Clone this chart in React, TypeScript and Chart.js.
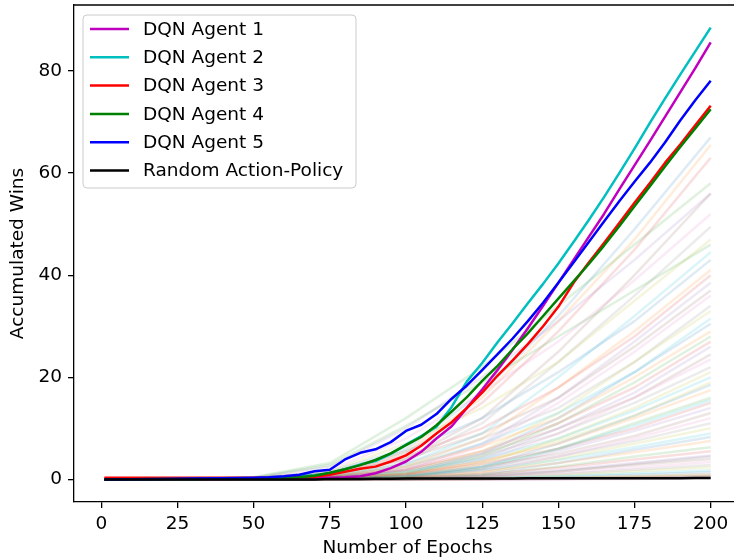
import { useEffect, useRef } from "react";
import { Chart, registerables } from "chart.js";

Chart.register(...registerables);

// ---- data -------------------------------------------------------------

const agentEpochs = [
  1, 10, 20, 30, 40, 50, 55, 60, 65, 70, 75, 80, 85, 90, 95, 100, 105, 110,
  115, 120, 125, 130, 135, 140, 145, 150, 155, 160, 165, 170, 175, 180, 185,
  190, 195, 200,
];

const agent1Wins = [
  0, 0.05, 0.1, 0.1, 0.1, 0.15, 0.15, 0.2, 0.2, 0.25, 0.3, 0.4, 0.6, 1.2, 2.2,
  3.5, 5.4, 8.0, 10.4, 14.0, 17.6, 21.4, 25.4, 29.6, 34.0, 38.5, 43.0, 47.5,
  52.0, 56.8, 61.5, 66.2, 71.0, 75.8, 80.6, 85.6,
];

const agent2Wins = [
  0, 0.05, 0.1, 0.1, 0.15, 0.2, 0.3, 0.4, 0.6, 0.8, 1.2, 2.0, 2.9, 3.6, 5.0,
  6.8, 8.5, 10.3, 14.2, 19.2, 22.8, 26.8, 30.6, 34.5, 38.3, 42.3, 46.5, 50.8,
  55.3, 60.0, 64.8, 69.8, 74.6, 79.3, 83.9, 88.5,
];

const agent3Wins = [
  0.3, 0.3, 0.3, 0.3, 0.3, 0.3, 0.3, 0.35, 0.4, 0.5, 0.9, 1.5, 2.1, 2.5, 3.5,
  4.7, 6.6, 9.0, 11.2, 14.0, 17.0, 20.3, 23.3, 26.5, 30.0, 33.8, 38.5, 42.5,
  46.3, 50.2, 54.2, 58.0, 62.0, 65.6, 69.4, 73.2,
];

const agent4Wins = [
  0, 0.05, 0.1, 0.1, 0.15, 0.2, 0.2, 0.3, 0.4, 0.7, 1.3, 2.0, 2.8, 3.8, 5.1,
  6.7, 8.3, 10.6, 13.3, 16.1, 19.3, 22.2, 25.5, 28.6, 32.0, 35.4, 38.8, 42.2,
  45.8, 49.6, 53.5, 57.4, 61.3, 65.1, 68.8, 72.5,
];

const agent5Wins = [
  0, 0.05, 0.1, 0.15, 0.2, 0.3, 0.4, 0.6, 0.9, 1.6, 1.9, 3.9, 5.2, 5.9, 7.3,
  9.5, 10.7, 12.8, 15.8, 18.4, 21.4, 24.5, 27.6, 31.0, 34.6, 38.5, 42.5, 46.5,
  50.5, 54.5, 58.3, 62.0, 66.0, 70.3, 74.3, 78.1,
];

const randomPolicyWins = [
  0, 0, 0, 0, 0, 0, 0, 0, 0, 0, 0.1, 0.1, 0.1, 0.12, 0.13, 0.15, 0.15, 0.16,
  0.17, 0.18, 0.18, 0.19, 0.19, 0.2, 0.2, 0.2, 0.21, 0.21, 0.22, 0.22, 0.23,
  0.23, 0.24, 0.24, 0.25, 0.25,
];

const agentLabels = [
  "DQN Agent 1",
  "DQN Agent 2",
  "DQN Agent 3",
  "DQN Agent 4",
  "DQN Agent 5",
  "Random Action-Policy",
];

// Individual training runs shown faintly behind the agents
const runEpochs = [1, 50, 75, 100, 125, 150, 175, 200];

const backgroundRuns = [
  [0, 0.2, 1.5, 6, 17, 32, 49, 67],
  [0, 0.2, 1.2, 5.5, 16, 31, 47, 65.5],
  [0, 0.4, 3.2, 12, 22, 34, 46, 58],
  [0, 0.1, 1, 5, 15, 29, 45, 63],
  [0, 0.3, 2.5, 10, 20, 31, 43, 56],
  [0, 0.1, 0.8, 4, 12, 25, 40, 56],
  [0, 0.2, 1.8, 8, 17, 27, 39, 52],
  [0, 0.1, 0.6, 3.5, 11, 23, 36, 49.5],
  [0, 0.2, 1.5, 7, 14, 23, 35, 47],
  [0, 0.1, 0.5, 3, 9, 20, 32, 44.5],
  [0, 0.2, 1.2, 5.5, 12, 21, 31, 43],
  [0, 0.1, 0.5, 2.5, 8, 18, 29, 41],
  [0, 0.3, 2.8, 10.5, 19, 28, 37, 46],
  [0, 0.1, 1, 4.5, 10, 18, 28, 40],
  [0, 0.1, 0.4, 2, 7, 16, 27, 38.5],
  [0, 0.2, 1, 4, 9, 16, 26, 37],
  [0, 0.1, 0.3, 1.8, 6.5, 15, 25, 36],
  [0, 0.1, 0.6, 3, 8, 14, 23, 34],
  [0, 0.1, 0.3, 1.5, 5.5, 13, 23, 33],
  [0, 0.1, 0.5, 2.5, 7, 13, 21, 31.5],
  [0, 0, 0.2, 1.2, 5, 12, 21, 30.5],
  [0, 0.1, 0.5, 2.5, 6.5, 12, 20, 29],
  [0, 0, 0.2, 1, 4.5, 11, 19, 28],
  [0, 0.1, 0.4, 2, 5.5, 11, 18, 27],
  [0, 0, 0.2, 1, 4, 10, 17, 26],
  [0, 0.1, 0.4, 1.8, 5, 10, 16, 24.5],
  [0, 0, 0.1, 0.8, 3.5, 9, 16, 23.5],
  [0, 0.1, 0.3, 1.5, 4.5, 9, 15, 22],
  [0, 0, 0.1, 0.7, 3, 8, 14, 21],
  [0, 0.1, 0.3, 1.5, 4, 8, 13.5, 20],
  [0, 0, 0.1, 0.5, 2.5, 7, 12.5, 18.5],
  [0, 0, 0.2, 1, 3.5, 7, 12, 17.5],
  [0, 0, 0.1, 0.5, 2.2, 6, 11, 16],
  [0, 0, 0.2, 1, 3, 6, 10, 15],
  [0, 0, 0.1, 0.4, 2, 5.5, 9.5, 14],
  [0, 0, 0.1, 0.8, 2.5, 5, 8.5, 13],
  [0, 0, 0, 0.3, 1.5, 4.5, 8, 12],
  [0, 0, 0.1, 0.6, 2, 4.5, 7.5, 11],
  [0, 0, 0, 0.3, 1.3, 4, 7, 10],
  [0, 0, 0.1, 0.5, 1.8, 3.8, 6.3, 9],
  [0, 0, 0, 0.2, 1, 3.2, 5.8, 8.3],
  [0, 0, 0.1, 0.4, 1.5, 3.2, 5.3, 7.5],
  [0, 0, 0, 0.2, 0.8, 2.5, 4.5, 6.3],
  [0, 0, 0, 0.3, 1, 2.3, 3.9, 5.5],
  [0, 0, 0, 0.1, 0.6, 1.8, 3.2, 4.7],
  [0, 0, 0, 0.2, 0.7, 1.6, 2.8, 4],
  [0, 0, 0, 0.1, 0.4, 1.2, 2.3, 3.4],
  [0, 0, 0, 0.1, 0.4, 1, 1.9, 2.8],
  [0, 0, 0, 0.1, 0.3, 0.8, 1.6, 2.4],
  [0, 0, 0, 0, 0.2, 0.6, 1.2, 1.8],
  [0, 0, 0, 0.1, 0.2, 0.5, 0.9, 1.4],
  [0, 0, 0, 0, 0.1, 0.3, 0.6, 1],
  [0, 0, 0, 0, 0.1, 0.3, 0.5, 0.8],
  [0, 0, 0, 0, 0.1, 0.2, 0.4, 0.6],
  [0, 0, 0, 0, 0, 0.1, 0.3, 0.5],
  [0, 0, 0, 0, 0, 0.1, 0.2, 0.3],
  [0, 0, 0, 0, 0, 0, 0.1, 0.2],
  [0, 0, 0, 0.1, 0.5, 1.5, 3, 4.5],
  [0, 0.1, 0.3, 1.2, 3.5, 7.5, 12.5, 19],
  [0, 0, 0.1, 0.6, 2.5, 6, 10.5, 15.5],
];

const xTickValues = [0, 25, 50, 75, 100, 125, 150, 175, 200];
const yTickValues = [0, 20, 40, 60, 80];

// ---- styling ----------------------------------------------------------

const FONT = "'DejaVu Sans', 'Liberation Sans', sans-serif";
const FONT_SIZE = 18.5;

const agentColors = ["#bf00bf", "#00bfbf", "#ff0000", "#008000", "#0000ff", "#000000"];

const runPalette = [
  "31,119,180",
  "255,127,14",
  "44,160,44",
  "214,39,40",
  "148,103,189",
  "140,86,75",
  "227,119,194",
  "127,127,127",
  "188,189,34",
  "23,190,207",
];

const toPoints = (xs: number[], ys: number[]) =>
  xs.map((x, i) => ({ x, y: ys[i] }));

// Top edge of the plot frame (left/bottom come from the axis borders)
const framePlugin = {
  id: "frame",
  afterDatasetsDraw(chart: any) {
    const { ctx, chartArea } = chart;
    ctx.save();
    ctx.strokeStyle = "#000";
    ctx.lineWidth = 1.3;
    ctx.beginPath();
    ctx.moveTo(chartArea.left, chartArea.top);
    ctx.lineTo(chartArea.right, chartArea.top);
    ctx.stroke();
    ctx.restore();
  },
};

// Legend box in the upper-left corner of the plot area
const agentLegendPlugin = {
  id: "agentLegend",
  afterDraw(chart: any) {
    const { ctx, chartArea } = chart;
    const entries = chart.data.datasets.filter((d: any) => d.label);
    const x0 = chartArea.left + 9;
    const y0 = chartArea.top + 10;
    const w = 273;
    const h = 173;
    const r = 4;
    ctx.save();
    ctx.beginPath();
    ctx.moveTo(x0 + r, y0);
    ctx.arcTo(x0 + w, y0, x0 + w, y0 + h, r);
    ctx.arcTo(x0 + w, y0 + h, x0, y0 + h, r);
    ctx.arcTo(x0, y0 + h, x0, y0, r);
    ctx.arcTo(x0, y0, x0 + w, y0, r);
    ctx.closePath();
    ctx.fillStyle = "rgba(255,255,255,0.8)";
    ctx.fill();
    ctx.strokeStyle = "#cccccc";
    ctx.lineWidth = 1;
    ctx.stroke();

    ctx.font = `${FONT_SIZE}px ${FONT}`;
    ctx.textBaseline = "middle";
    ctx.textAlign = "left";
    entries.forEach((d: any, i: number) => {
      const y = y0 + 14 + i * 28.3;
      ctx.strokeStyle = d.borderColor;
      ctx.lineWidth = 2.5;
      ctx.beginPath();
      ctx.moveTo(x0 + 7, y);
      ctx.lineTo(x0 + 46, y);
      ctx.stroke();
      ctx.fillStyle = "#000";
      ctx.fillText(d.label, x0 + 60, y + 1);
    });
    ctx.restore();
  },
};

// Fixed axis boxes so the plot area lands where it should
const clearPadding = (scale: any) => {
  scale.paddingTop = 0;
  scale.paddingBottom = 0;
  scale.paddingLeft = 0;
  scale.paddingRight = 0;
};

const VIEW_W = 734;
const CANVAS_W = 780;
const CANVAS_H = 560;
// the plot box runs slightly past the visible right edge
const PLOT_RIGHT = 741;

export default function App() {
  const canvasRef = useRef<HTMLCanvasElement>(null);

  useEffect(() => {
    const canvas = canvasRef.current;
    if (!canvas) return;

    const agentSeries = [
      agent1Wins,
      agent2Wins,
      agent3Wins,
      agent4Wins,
      agent5Wins,
      randomPolicyWins,
    ];

    const datasets: any[] = agentSeries.map((ys, i) => ({
      label: agentLabels[i],
      data: toPoints(agentEpochs, ys),
      borderColor: agentColors[i],
      borderWidth: 2.5,
      // later agents are drawn on top of earlier ones; runs sit underneath
      order: agentSeries.length - 1 - i,
    }));

    backgroundRuns.forEach((ys, i) => {
      datasets.push({
        label: "",
        data: toPoints(runEpochs, ys),
        borderColor: `rgba(${runPalette[i % runPalette.length]},0.15)`,
        borderWidth: 2.5,
        order: 100 + backgroundRuns.length - i,
      });
    });

    const tickFont = { family: FONT, size: FONT_SIZE };

    const chart = new Chart(canvas, {
      type: "line",
      data: { datasets },
      options: {
        animation: false,
        responsive: false,
        devicePixelRatio: 1,
        layout: {
          padding: { top: 5, right: CANVAS_W - PLOT_RIGHT, left: 0, bottom: 0 },
        },
        elements: {
          point: { radius: 0 },
          line: { tension: 0, borderJoinStyle: "round", fill: false },
        },
        plugins: {
          legend: { display: false },
          tooltip: { enabled: false },
        },
        scales: {
          x: {
            type: "linear",
            min: -8.95,
            max: 209.95,
            afterBuildTicks: (scale: any) => {
              scale.ticks = xTickValues.map((value) => ({ value }));
            },
            afterFit: (scale: any) => {
              scale.height = 58;
              clearPadding(scale);
            },
            ticks: {
              font: tickFont,
              color: "#000",
              padding: 5,
              maxRotation: 0,
              autoSkip: false,
            },
            grid: {
              display: true,
              drawOnChartArea: false,
              drawTicks: true,
              tickLength: 6,
              color: "#000",
              lineWidth: 1.3,
            },
            border: { display: true, color: "#000", width: 1.3 },
            title: {
              display: true,
              text: "Number of Epochs",
              font: tickFont,
              color: "#000",
              padding: { top: 0, bottom: 1 },
            },
          },
          y: {
            type: "linear",
            min: -4.43,
            max: 92.93,
            afterBuildTicks: (scale: any) => {
              scale.ticks = yTickValues.map((value) => ({ value }));
            },
            afterFit: (scale: any) => {
              scale.width = 74;
              clearPadding(scale);
            },
            ticks: {
              font: tickFont,
              color: "#000",
              padding: 6,
              autoSkip: false,
            },
            grid: {
              display: true,
              drawOnChartArea: false,
              drawTicks: true,
              tickLength: 6,
              color: "#000",
              lineWidth: 1.3,
            },
            border: { display: true, color: "#000", width: 1.3 },
            title: {
              display: true,
              text: "Accumulated Wins",
              font: tickFont,
              color: "#000",
              padding: { top: 7, bottom: 0 },
            },
          },
        },
      },
      plugins: [framePlugin, agentLegendPlugin],
    });

    return () => chart.destroy();
  }, []);

  return (
    <div
      style={{
        position: "fixed",
        left: 0,
        top: 0,
        width: VIEW_W,
        height: CANVAS_H,
        overflow: "hidden",
        background: "#fff",
      }}
    >
      <canvas
        ref={canvasRef}
        width={CANVAS_W}
        height={CANVAS_H}
        style={{ display: "block", width: CANVAS_W, height: CANVAS_H }}
      />
    </div>
  );
}
